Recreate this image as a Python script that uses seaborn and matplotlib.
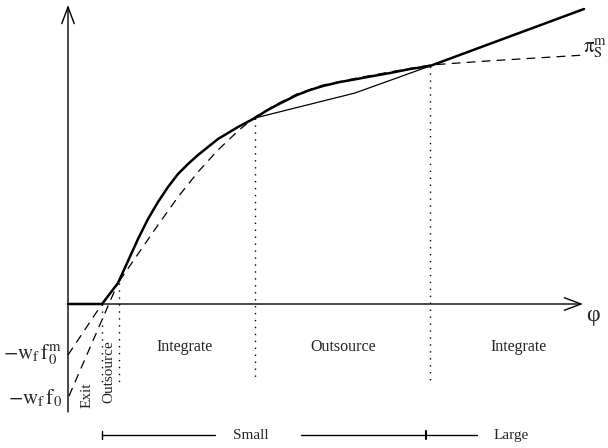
import numpy as np
import pandas as pd
import seaborn as sns
import matplotlib
matplotlib.use("Agg")
import matplotlib.pyplot as plt

sns.set_theme(style="white")
plt.rcParams['font.family'] = ['Liberation Serif', 'DejaVu Serif']
plt.rcParams['mathtext.fontset'] = 'stix'

# ---- data (phi on x, profit on y) ----
# upper envelope (thick)
env_x = [0, 34, 50, 60, 70, 80, 90, 100, 110, 120, 130, 140, 150, 160, 170, 187,
         198, 209, 219, 229, 242, 255, 272, 289, 305, 322, 342, 362, 516]
env_y = [0, 0, 21, 43, 65, 85, 102, 117, 130, 140, 149, 157, 165, 171, 177, 186,
         193, 199, 204, 209, 214, 218, 222, 225, 228, 231, 235, 238, 295]
# outsourcing profit (dashed)
out_x = [0, 34, 50, 70, 90, 110, 130, 150, 170, 187, 209, 229, 255, 289, 322, 362, 419, 517]
out_y = [-51, 0, 21, 50, 79, 107, 132, 154, 173, 187, 200, 210, 219, 226, 232, 239, 243, 249]
# integration profit below kink (dashed)
int_x = [1, 50]
int_y = [-92, 21]
# thin chord in the middle region
chord_x = [187, 287, 362]
chord_y = [186, 211, 238]
# regime thresholds
thresholds = [34, 51, 187, 362]
threshold_tops = [0, 21, 186, 238]
regime_labels = ["Integrate", "Outsource", "Integrate"]
regime_x = [117, 275, 451]
size_labels = ["Small", "Large"]

fig = plt.figure(figsize=(6.08, 4.48), dpi=100)
ax = fig.add_axes([0, 0, 1, 1])
ax.set_xlim(-68, 540)
ax.set_ylim(-144, 304)
ax.axis('off')

# axes with arrows
ax.annotate('', xy=(0, 299), xytext=(0, -108),
            arrowprops=dict(arrowstyle='->, head_length=0.8, head_width=0.3',
                            mutation_scale=15, lw=1, color='black', shrinkA=0, shrinkB=0))
ax.annotate('', xy=(515, 0), xytext=(0, 0),
            arrowprops=dict(arrowstyle='->, head_length=0.8, head_width=0.3',
                            mutation_scale=15, lw=1, color='black', shrinkA=0, shrinkB=0))

# dashed curves
sns.lineplot(x=out_x, y=out_y, sort=False, estimator=None, color='black', lw=0.9,
             linestyle=(0, (7, 5)), ax=ax)
sns.lineplot(x=int_x, y=int_y, sort=False, estimator=None, color='black', lw=0.9,
             linestyle=(0, (7, 5)), ax=ax)
# thin chord
sns.lineplot(x=chord_x, y=chord_y, sort=False, estimator=None, color='black', lw=0.9, ax=ax)
# thick envelope
sns.lineplot(x=env_x, y=env_y, sort=False, estimator=None, color='black', lw=1.8, ax=ax)

# dotted thresholds
for tx, ty in zip(thresholds, threshold_tops):
    ax.plot([tx, tx], [ty, -78], color='black', lw=1, linestyle=(0, (1, 4)))

# labels
for lab, lx in zip(regime_labels, regime_x):
    ax.text(lx, -43, lab, ha='center', va='center', fontsize=11.5)
ax.text(19, -91, "Exit", rotation=90, ha='center', va='center', fontsize=11)
ax.text(41, -68, "Outsource", rotation=90, ha='center', va='center', fontsize=11)

ax.text(-6, -51, r'$-\mathrm{w}_\mathrm{f}\,\mathrm{f}_\mathrm{0}^\mathrm{m}$',
        ha='right', va='center', fontsize=15)
ax.text(-6, -94, r'$-\mathrm{w}_\mathrm{f}\,\mathrm{f}_\mathrm{0}$',
        ha='right', va='center', fontsize=15)
ax.text(515, 256, r'$\mathrm{\pi}_\mathrm{S}^\mathrm{m}$', ha='left', va='center', fontsize=15)
ax.text(518, -11, 'φ', ha='left', va='center', fontsize=17)

# size bar
ax.plot([34, 147], [-131, -131], color='black', lw=1)
ax.plot([233, 409], [-131, -131], color='black', lw=1)
ax.plot([34, 34], [-127, -135], color='black', lw=1)
ax.plot([358, 358], [-127, -135], color='black', lw=1.5)
ax.text(183, -131, size_labels[0], ha='center', va='center', fontsize=11)
ax.text(443, -131, size_labels[1], ha='center', va='center', fontsize=11)

fig.savefig("out.png", dpi=100)
